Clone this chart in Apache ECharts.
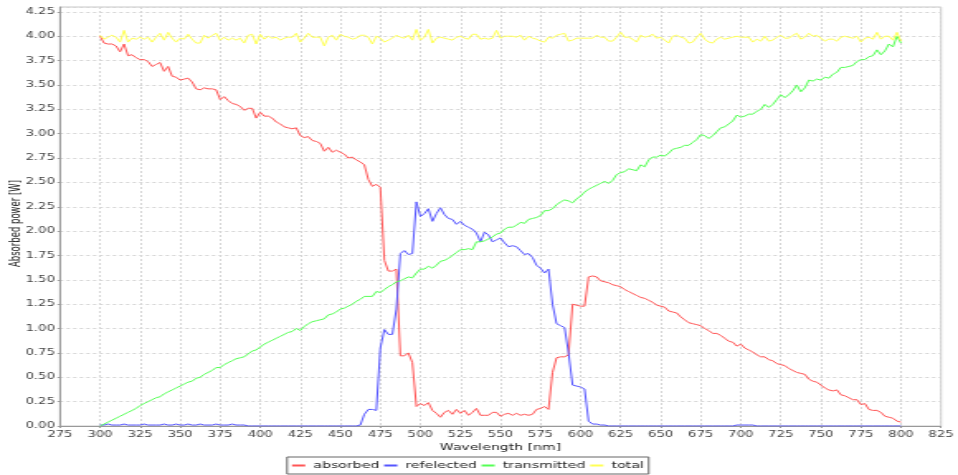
<!DOCTYPE html>
<html>
<head>
<meta charset="utf-8">
<title>Absorbed power vs wavelength</title>
<script src="https://cdn.jsdelivr.net/npm/echarts@6/dist/echarts.min.js"></script>
<style>
  html, body { margin: 0; padding: 0; background: #fff; overflow: hidden; }
  /* the chart is laid out narrow and widened horizontally */
  #chart { width: 580px; height: 475px; transform: scaleX(1.6517); transform-origin: 0 0; }
</style>
</head>
<body>
<div id="chart"></div>
<script>
// Wavelength samples [nm]
const wavelength = [
  300, 302.5, 305, 307.5, 310, 312.5, 315, 317.5,
  320, 322.5, 325, 327.5, 330, 332.5, 335, 337.5,
  340, 342.5, 345, 347.5, 350, 352.5, 355, 357.5,
  360, 362.5, 365, 367.5, 370, 372.5, 375, 377.5,
  380, 382.5, 385, 387.5, 390, 392.5, 395, 397.5,
  400, 402.5, 405, 407.5, 410, 412.5, 415, 417.5,
  420, 422.5, 425, 427.5, 430, 432.5, 435, 437.5,
  440, 442.5, 445, 447.5, 450, 452.5, 455, 457.5,
  460, 462.5, 465, 467.5, 470, 472.5, 475, 477.5,
  480, 482.5, 485, 487.5, 490, 492.5, 495, 497.5,
  500, 502.5, 505, 507.5, 510, 512.5, 515, 517.5,
  520, 522.5, 525, 527.5, 530, 532.5, 535, 537.5,
  540, 542.5, 545, 547.5, 550, 552.5, 555, 557.5,
  560, 562.5, 565, 567.5, 570, 572.5, 575, 577.5,
  580, 582.5, 585, 587.5, 590, 592.5, 595, 597.5,
  600, 602.5, 605, 607.5, 610, 612.5, 615, 617.5,
  620, 622.5, 625, 627.5, 630, 632.5, 635, 637.5,
  640, 642.5, 645, 647.5, 650, 652.5, 655, 657.5,
  660, 662.5, 665, 667.5, 670, 672.5, 675, 677.5,
  680, 682.5, 685, 687.5, 690, 692.5, 695, 697.5,
  700, 702.5, 705, 707.5, 710, 712.5, 715, 717.5,
  720, 722.5, 725, 727.5, 730, 732.5, 735, 737.5,
  740, 742.5, 745, 747.5, 750, 752.5, 755, 757.5,
  760, 762.5, 765, 767.5, 770, 772.5, 775, 777.5,
  780, 782.5, 785, 787.5, 790, 792.5, 795, 797.5,
  800
];

// Power [W]
const absorbed = [
  4.00, 3.93, 3.92, 3.92, 3.90, 3.84, 3.92, 3.80,
  3.81, 3.78, 3.76, 3.76, 3.74, 3.69, 3.71, 3.73,
  3.64, 3.69, 3.59, 3.58, 3.55, 3.56, 3.57, 3.53,
  3.46, 3.45, 3.47, 3.46, 3.46, 3.45, 3.35, 3.38,
  3.34, 3.31, 3.30, 3.28, 3.24, 3.26, 3.26, 3.16,
  3.22, 3.18, 3.18, 3.16, 3.12, 3.10, 3.07, 3.06,
  3.05, 3.06, 2.98, 2.96, 2.97, 2.93, 2.92, 2.90,
  2.82, 2.86, 2.81, 2.83, 2.81, 2.79, 2.75, 2.76,
  2.73, 2.71, 2.68, 2.53, 2.46, 2.48, 2.45, 1.70,
  1.59, 1.59, 1.61, 0.72, 0.72, 0.75, 0.65, 0.20,
  0.23, 0.21, 0.24, 0.16, 0.13, 0.09, 0.14, 0.16,
  0.12, 0.17, 0.13, 0.16, 0.11, 0.14, 0.18, 0.11,
  0.11, 0.11, 0.14, 0.14, 0.10, 0.12, 0.13, 0.11,
  0.13, 0.11, 0.12, 0.11, 0.12, 0.17, 0.18, 0.20,
  0.17, 0.55, 0.70, 0.71, 0.71, 0.73, 1.25, 1.24,
  1.23, 1.23, 1.53, 1.54, 1.53, 1.49, 1.48, 1.47,
  1.45, 1.44, 1.43, 1.40, 1.38, 1.36, 1.34, 1.32,
  1.31, 1.29, 1.27, 1.24, 1.23, 1.22, 1.18, 1.17,
  1.16, 1.12, 1.09, 1.06, 1.05, 1.04, 1.03, 1.00,
  0.98, 0.95, 0.95, 0.93, 0.90, 0.87, 0.86, 0.82,
  0.84, 0.80, 0.78, 0.76, 0.73, 0.71, 0.71, 0.68,
  0.67, 0.64, 0.63, 0.62, 0.59, 0.57, 0.55, 0.54,
  0.53, 0.48, 0.46, 0.45, 0.42, 0.39, 0.37, 0.36,
  0.37, 0.32, 0.31, 0.29, 0.27, 0.27, 0.22, 0.23,
  0.17, 0.16, 0.16, 0.14, 0.10, 0.09, 0.08, 0.05,
  0.04
];

const reflected = [
  0.01, 0.01, 0.02, 0.01, 0.01, 0.01, 0.02, 0.01,
  0.01, 0.01, 0.01, 0.02, 0.01, 0.01, 0.01, 0.01,
  0.02, 0.01, 0.01, 0.02, 0.01, 0.01, 0.02, 0.01,
  0.01, 0.02, 0.01, 0.01, 0.01, 0.02, 0.01, 0.01,
  0.01, 0.02, 0.01, 0.01, 0.01, 0.00, 0.00, 0.00,
  0.00, 0.00, 0.00, 0.00, 0.00, 0.00, 0.00, 0.00,
  0.00, 0.00, 0.00, 0.00, 0.00, 0.00, 0.00, 0.00,
  0.00, 0.00, 0.00, 0.00, 0.00, 0.00, 0.00, 0.00,
  0.00, 0.01, 0.12, 0.17, 0.17, 0.16, 0.80, 0.99,
  0.94, 0.94, 1.20, 1.77, 1.80, 1.76, 1.77, 2.30,
  2.15, 2.18, 2.23, 2.10, 2.18, 2.24, 2.17, 2.13,
  2.12, 2.07, 2.10, 2.06, 2.04, 2.02, 1.98, 1.89,
  1.99, 1.96, 1.89, 1.91, 1.93, 1.88, 1.84, 1.85,
  1.84, 1.80, 1.76, 1.77, 1.73, 1.65, 1.62, 1.57,
  1.61, 1.25, 1.05, 1.03, 1.01, 0.75, 0.42, 0.41,
  0.40, 0.38, 0.05, 0.02, 0.02, 0.01, 0.01, 0.00,
  0.00, 0.00, 0.00, 0.00, 0.00, 0.00, 0.00, 0.00,
  0.00, 0.00, 0.00, 0.00, 0.00, 0.00, 0.00, 0.00,
  0.00, 0.00, 0.00, 0.00, 0.00, 0.00, 0.00, 0.00,
  0.00, 0.00, 0.00, 0.00, 0.00, 0.00, 0.00, 0.01,
  0.01, 0.01, 0.01, 0.01, 0.00, 0.00, 0.00, 0.00,
  0.00, 0.00, 0.00, 0.00, 0.00, 0.00, 0.00, 0.00,
  0.00, 0.00, 0.00, 0.00, 0.00, 0.00, 0.00, 0.00,
  0.00, 0.00, 0.00, 0.00, 0.00, 0.00, 0.00, 0.00,
  0.00, 0.00, 0.00, 0.00, 0.00, 0.00, 0.00, 0.00,
  0.00
];

const transmitted = [
  0.00, 0.02, 0.04, 0.06, 0.08, 0.10, 0.12, 0.14,
  0.16, 0.18, 0.21, 0.23, 0.25, 0.27, 0.29, 0.30,
  0.33, 0.35, 0.37, 0.39, 0.41, 0.43, 0.45, 0.46,
  0.49, 0.50, 0.53, 0.55, 0.57, 0.60, 0.60, 0.63,
  0.65, 0.67, 0.69, 0.70, 0.71, 0.74, 0.77, 0.78,
  0.81, 0.84, 0.86, 0.88, 0.90, 0.92, 0.94, 0.96,
  0.97, 1.00, 0.98, 1.02, 1.05, 1.07, 1.08, 1.09,
  1.10, 1.14, 1.15, 1.17, 1.20, 1.21, 1.23, 1.25,
  1.28, 1.30, 1.33, 1.33, 1.33, 1.38, 1.37, 1.40,
  1.43, 1.45, 1.48, 1.49, 1.51, 1.53, 1.52, 1.57,
  1.61, 1.61, 1.64, 1.62, 1.65, 1.69, 1.70, 1.72,
  1.75, 1.78, 1.81, 1.81, 1.82, 1.81, 1.89, 1.89,
  1.90, 1.92, 1.94, 1.97, 1.98, 2.02, 2.04, 2.04,
  2.06, 2.09, 2.08, 2.12, 2.13, 2.14, 2.16, 2.21,
  2.21, 2.23, 2.27, 2.30, 2.32, 2.31, 2.29, 2.33,
  2.36, 2.40, 2.43, 2.45, 2.47, 2.49, 2.51, 2.49,
  2.52, 2.58, 2.60, 2.61, 2.64, 2.63, 2.62, 2.68,
  2.66, 2.73, 2.76, 2.76, 2.78, 2.77, 2.80, 2.84,
  2.85, 2.86, 2.88, 2.88, 2.91, 2.94, 2.99, 2.98,
  2.95, 2.98, 3.02, 3.06, 3.07, 3.10, 3.13, 3.19,
  3.17, 3.18, 3.20, 3.20, 3.23, 3.25, 3.30, 3.27,
  3.30, 3.35, 3.40, 3.37, 3.40, 3.44, 3.50, 3.43,
  3.47, 3.55, 3.54, 3.56, 3.55, 3.58, 3.57, 3.61,
  3.63, 3.68, 3.68, 3.69, 3.70, 3.74, 3.76, 3.76,
  3.79, 3.80, 3.86, 3.81, 3.85, 3.92, 3.89, 4.00,
  3.93
];

const total = [
  4.01, 3.97, 3.99, 4.01, 3.99, 3.94, 4.06, 3.94,
  3.98, 3.97, 3.99, 3.97, 3.99, 3.94, 3.99, 4.03,
  3.96, 4.04, 3.98, 3.94, 3.98, 3.97, 4.02, 3.97,
  3.93, 3.93, 4.01, 3.98, 4.01, 4.03, 3.96, 3.99,
  3.96, 3.98, 3.96, 3.98, 3.93, 4.01, 4.02, 3.92,
  4.02, 3.97, 4.00, 3.98, 3.99, 3.96, 3.98, 3.99,
  3.99, 4.03, 3.94, 3.98, 4.03, 3.99, 3.99, 3.99,
  3.90, 3.99, 4.01, 3.96, 4.02, 4.00, 3.99, 3.97,
  3.98, 4.01, 4.01, 3.99, 3.92, 4.00, 3.98, 3.94,
  3.96, 3.98, 4.01, 3.99, 3.98, 4.01, 3.96, 4.07,
  3.96, 3.99, 4.07, 3.93, 3.98, 3.99, 3.98, 3.97,
  3.96, 3.99, 4.00, 3.98, 3.97, 4.02, 4.02, 3.97,
  3.98, 3.97, 3.98, 4.06, 3.98, 4.00, 4.00, 4.00,
  3.99, 4.01, 3.96, 4.00, 3.98, 3.97, 3.95, 3.94,
  3.99, 3.98, 4.01, 4.02, 4.03, 3.95, 3.96, 3.98,
  3.98, 3.98, 3.98, 3.98, 4.01, 3.99, 3.99, 3.95,
  3.95, 3.99, 4.04, 3.99, 3.99, 3.97, 3.94, 4.01,
  3.99, 4.00, 4.02, 3.98, 3.99, 3.96, 3.93, 4.00,
  4.01, 3.99, 3.98, 3.93, 3.94, 3.99, 4.03, 3.97,
  3.94, 3.93, 3.97, 3.99, 3.97, 3.98, 3.99, 4.00,
  3.99, 3.99, 3.99, 3.94, 3.97, 3.95, 4.00, 3.95,
  3.96, 3.99, 4.01, 3.98, 3.98, 4.01, 4.03, 3.97,
  3.99, 4.03, 4.00, 4.01, 3.98, 3.95, 3.97, 3.97,
  3.95, 3.99, 4.00, 3.99, 3.98, 4.00, 3.94, 3.98,
  3.99, 3.97, 4.04, 3.97, 4.00, 4.00, 3.96, 4.04,
  3.95
];

const seriesNames = ['absorbed', 'refelected', 'transmitted', 'total'];
const seriesValues = [absorbed, reflected, transmitted, total];

// Axis ranges and tick spacing
const xRange = [275, 825];
const xStep = 25;
const yRange = [0, 4.3];
const yStep = 0.25;

const FONT = "'DejaVu Sans', 'Bitstream Vera Sans', sans-serif";
const colors = ['#ff5555', '#5555ff', '#55ff55', '#ffff55'];

const chart = echarts.init(document.getElementById('chart'));

const toPairs = values => wavelength.map((w, i) => [w, values[i]]);

const option = {
  animation: false,
  backgroundColor: '#ffffff',
  textStyle: { fontFamily: FONT },
  grid: {
    left: 36.3, right: 10.3, top: 7, bottom: 49,
    containLabel: false,
    outerBoundsMode: 'none',
    show: true, borderColor: '#c8c8c8', borderWidth: 1, backgroundColor: '#ffffff'
  },
  legend: {
    // short coloured strokes in front of each name
    data: seriesNames.map((name, i) => ({
      name: name,
      icon: 'rect',
      itemStyle: { color: colors[i], borderColor: colors[i], borderWidth: 0, opacity: 1 }
    })),
    left: 173.8, top: 457,
    itemWidth: 8, itemHeight: 2, itemGap: 3,
    padding: [4, 3, 4, 3],
    borderColor: '#666', borderWidth: 1,
    textStyle: { fontSize: 8.5, color: '#222', fontFamily: FONT }
  },
  xAxis: {
    type: 'value',
    min: xRange[0], max: xRange[1], interval: xStep,
    name: 'Wavelength [nm]', nameLocation: 'middle', nameGap: 17,
    nameMoveOverlap: false,
    nameTextStyle: { fontSize: 8.5, color: '#222', fontFamily: FONT },
    axisLine: { show: true, lineStyle: { color: '#999', width: 1 } },
    axisTick: { show: true, length: 2, lineStyle: { color: '#999' } },
    axisLabel: { fontSize: 8, color: '#444', margin: 5, fontFamily: FONT },
    splitLine: { show: true, lineStyle: { color: '#d6d6d6', type: [2, 2], width: 1 } }
  },
  yAxis: {
    type: 'value',
    min: yRange[0], max: yRange[1], interval: yStep,
    name: 'Absorbed power [W]', nameLocation: 'middle', nameGap: 22, nameRotate: 90,
    nameMoveOverlap: false,
    // extra room on one end nudges the rotated title a little lower
    nameTextStyle: { fontSize: 8.5, color: '#222', fontFamily: FONT, padding: [0, 14, 0, 0] },
    axisLine: { show: true, lineStyle: { color: '#999', width: 1 } },
    axisTick: { show: true, length: 1.5, lineStyle: { color: '#999' } },
    axisLabel: {
      fontSize: 8, color: '#444', margin: 3, fontFamily: FONT,
      showMaxLabel: false,
      formatter: v => {
        const k = v / yStep;
        return Math.abs(k - Math.round(k)) < 1e-6 ? v.toFixed(2) : '';
      }
    },
    splitLine: { show: true, lineStyle: { color: '#d6d6d6', type: [2, 2], width: 1 } }
  },
  series: seriesNames.map((name, i) => ({
    name: name,
    type: 'line',
    data: toPairs(seriesValues[i]),
    symbol: 'none',
    showSymbol: false,
    lineStyle: { color: colors[i], width: 1 },
    itemStyle: { color: colors[i] },
    z: 2 + i
  }))
};

chart.setOption(option);
</script>
</body>
</html>
